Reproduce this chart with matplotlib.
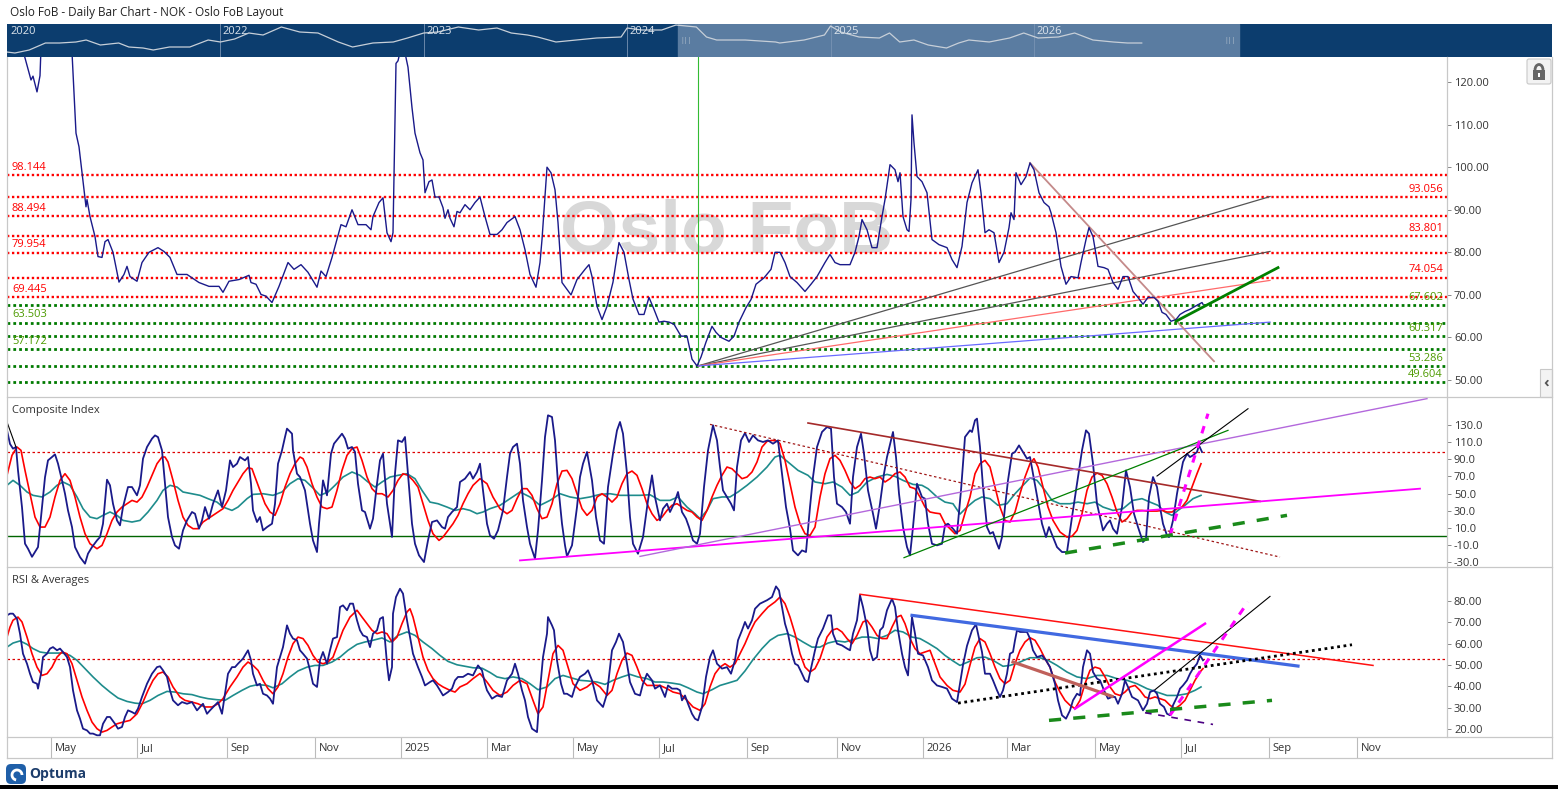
import numpy as np
import pandas as pd
import matplotlib
matplotlib.use('Agg')
import matplotlib.pyplot as plt
from matplotlib.patches import Rectangle, FancyBboxPatch, Circle, Arc

plt.rcParams['font.family'] = ['Open Sans', 'DejaVu Sans']

# ---------------- DATA ----------------
first_bar_date = '2024-04-01'          # first visible daily bar
n_visible_bars = 720

tick_months = ['2024-05', '2024-07', '2024-09', '2024-11', '2025-01', '2025-03', '2025-05', '2025-07',
               '2025-09', '2025-11', '2026-01', '2026-03', '2026-05', '2026-07', '2026-09', '2026-11']
tick_labels = ['May', 'Jul', 'Sep', 'Nov', '2025', 'Mar', 'May', 'Jul',
               'Sep', 'Nov', '2026', 'Mar', 'May', 'Jul', 'Sep', 'Nov']

# price (bar index, value)
price_pts = [(6.5,130),(12,120.5),(13,121.4),(15,117.7),(16.5,121.5),(17,128),(24.5,135),(32.5,127),(34.5,108),
(36,104.8),(37.5,98.7),(39.5,90.7),(40,92.4),(41.5,88.4),(44,83.7),(45.5,79),(47.5,78.8),(49,82.5),(50.5,83),
(53,80),(56,73),(58.5,74.8),(60,76.7),(61.5,74.3),(65,73.2),(67.5,77.6),(71,80),(75.5,81.1),(78.5,80.2),
(81.5,78.8),(85,74.8),(90,74.8),(96,72.9),(101,72),(106,72),(108,70.6),(111,73.2),(116,73.6),(121,74.6),
(122,72.9),(124.5,72.5),(127,70.1),(129.5,69.7),(132.5,68.2),(136,72),(140.5,77.6),(143.5,76),(147,77.1),
(150.5,75.3),(155,71.8),(157,75.6),(159.5,74.3),(162.5,78.8),(167,86.5),(169.5,86),(172.5,90),(175.5,86.5),
(179.5,86.5),(182,85.3),(183,88.4),(186,91.7),(188,92.8),(190,84.6),(192,82.5),(193,84.6),(194.5,124.4),
(195.5,125),(197,128),(198.5,128),(200.5,123.5),(202.5,114),(204,108),(206.5,103.4),(208,101.7),(209,94),
(211,96.6),(212.5,97),(214,93),(216,93),(218,90.5),(219,88),(220.5,90),(221.5,88),(223.5,86),(225,89.6),
(226.5,89.3),(229,91.2),(231.5,90),(234,91.7),(236.5,93),(239,88.4),(241.5,84.2),(245,84.2),(247.5,85.3),
(250,87),(254,88.4),(256.5,85.3),(259,80.6),(261.5,74.8),(264.5,71.8),(266.5,77.6),(267.5,83),(270,100),
(272,98.7),(274,94.7),(275.5,87),(277.5,72.9),(280,71.3),(282,70),(285,73.6),(289,76),(291,77.1),(292.5,74.3),
(295,67.3),(297.5,64.2),(300,67.3),(303,73),(306,82.3),(308.5,80),(311,73.6),(313,69),(316,65.4),(318.5,65.4),
(321,69.4),(323.5,66.6),(326,63.6),(328.5,63.8),(331,63.6),(333.5,63.1),(337,60.3),(340,60.3),(342.5,54.9),
(345,53.3),(347,55.4),(349.5,58.9),(352.5,62.6),(354.5,61.2),(357,60),(361,59.1),(363.5,60.3),(366,63.6),
(369.5,67),(372,68.9),(374.5,72.5),(378.5,74),(382,76),(384,80),(386.5,80),(389,77.6),(391.5,74.3),(395,72.9),
(399,70.8),(402,72.5),(405,74.3),(409,77.6),(411.5,79.5),(414,77.6),(416.5,77.1),(421.5,77.1),(424,80),
(426,83.7),(427.5,87.7),(430,85.3),(432.5,81.1),(435,81.1),(437.5,88.4),(439,92.4),(441.5,100.6),(444,99.4),
(445.5,96.6),(446.5,98.7),(448,88.4),(450,85.3),(451,84.9),(452,92.4),(452.5,112.3),(453.5,105.7),(455,97.8),
(457.5,96.6),(460,94),(462.5,83),(466,81.8),(470,81.1),(472.5,78.3),(475,76.4),(477.5,81.4),(480,91.7),
(482.5,96.3),(485.5,99.4),(487,94),(489,84.6),(491,85.3),(493.5,84.6),(496,77.6),(498.5,80),(501,85.8),
(502,89.3),(503.5,87.7),(504.5,98.7),(507,95.9),(509.5,97.8),(511.5,101),(513.5,99.4),(516,94),(518.5,91.7),
(521,90.7),(522,89.3),(524.5,84.6),(527,76.7),(529.5,72.5),(532,74.3),(535.5,74),(537,77.6),(539.5,83),
(541,85.8),(543,83.7),(545.5,76.7),(548.5,76.4),(550.5,76),(553,72.9),(555.5,71.3),(558,74.3),(560.5,74.3),
(563,70.8),(565.5,69.4),(568,67.8),(570.5,69.4),(573.5,69.4),(575.5,68.5),(577.5,65.9),(579.5,65.4),(582,63.8),
(584.5,64.2),(586.5,65.4),(589,66.1),(591.5,66.6),(594,67.3),(597.5,68.2),(598,67.8)]

red_levels = [98.144, 93.056, 88.494, 83.801, 79.954, 74.054, 69.445]
green_levels = [67.602, 63.503, 60.317, 57.172, 53.286, 49.604]
left_labelled = [98.144, 88.494, 79.954, 69.445, 63.503, 57.172]
price_pivot = (345.5, 53.3)
fan_ends = [(631.5, 93.1, '#555555'), (631.5, 80.2, '#555555'), (631.5, 73.4, '#ff6a6a'), (631.5, 63.6, '#6a6aff')]
price_downtrend = [(511.5, 101.0), (603.5, 54.4)]
price_uptrend = [(584.5, 63.8), (635.5, 76.4)]

comp_blue = [(0,124),(1.5,108),(3,102.5),(4.5,104.4),(5.5,77),(7.5,34),(9,-8.6),(10.5,-14.5),(12.5,-24),(14,-18.4),
(15.5,-12.6),(17.5,34),(19,69),(20.5,88.8),(22.5,92.7),(24,95.8),(25.5,85),(27.5,65.4),(29,49.8),(30.5,30.3),
(32.5,10.8),(34,-12.6),(36.5,-24.3),(39,-32),(40.5,-20.3),(42.5,-12.6),(45,-4.8),(46.5,-0.9),(48,14.7),(50,66.2),
(51.5,59.6),(53,38.1),(55,18.6),(56.5,12.8),(58,34.2),(60.5,57.6),(62.5,57.6),(65,47.9),(66.5,59.6),(68,90.8),
(70,104.4),(72.5,114.2),(74,118),(75.5,116),(77.5,100.5),(79,61.5),(80.5,22.5),(82.5,-0.8),(84,-10.6),(86,-14.5),
(88,6.9),(90,18.6),(92.5,28.4),(94,26.4),(96,8.9),(97.5,18.6),(99,34.2),(101,20.6),(103,38.1),(105.5,53.7),
(107.5,34.2),(109.5,53.7),(111.5,88.8),(113,81),(115,84.9),(116.5,92.7),(119,88.8),(120.5,92.7),(122,61.5),
(123,30.3),(125,16.7),(126.5,22.5),(128,6.9),(130,10.8),(132.5,14.7),(134,38.1),(135.5,84.9),(137.5,100.5),
(139,116.1),(140,125.9),(142.5,120),(143,100.5),(145,73.2),(146.5,69.3),(149,53.7),(151.5,14.7),(153,-4.8),
(155,-18.4),(156,14.7),(158,65.4),(160,47.9),(162,96.6),(163.5,108.3),(165.5,114.2),(167.5,120),(169,114.2),
(170.5,102.5),(172.5,104.4),(174,98.6),(175.5,61.5),(177.5,30.3),(179,28.4),(181.5,8.9),(183,20.6),(185,61.5),
(186.5,88.8),(188,96.6),(190,38.1),(192.5,-0.8),(194,73.2),(195.5,112.2),(197.5,110.3),(199,116.1),(200.5,73.2),
(202.5,14.7),(204,-8.7),(206,-22.3),(208.5,-30.1),(210.5,-4.8),(212.5,16.7),(215,18.6),(217.5,10.8),(219,8.9),
(220.5,22.5),(222.5,28.4),(225,34.2),(226.5,63.5),(229,67.4),(231.5,75.2),(233,67.4),(235,75.2),(236.5,84.9),
(238,53.7),(240,14.7),(241.5,1),(243.5,-2.8),(245.5,7),(248,30.3),(250,69.3),(251.5,96.6),(253,104.4),(255,108.3),
(256.5,84.9),(258,42),(260,10.8),(261.5,-8.7),(264,-26.2),(265.5,6.9),(267.5,65.4),(269,116.1),(270.5,141.5),
(272.5,139.5),(274,112.2),(275.5,61.5),(277.5,14.7),(279,-10.6),(280,-23.5),(282.5,-10.6),(285,34.2),(286.5,69.3),
(288,84.9),(290,98.6),(292.5,65.4),(294.5,22.5),(296.5,-4.8),(298.5,-8.7),(300.5,57.6),(303,96.6),(305,123.9),
(306.5,133.7),(308,120),(310,73.2),(311.5,22.5),(313,-8.7),(315.5,-20.4),(318,-0.9),(320.5,42),(322.5,71.3),
(324,45.9),(326.5,18.6),(328,32.3),(330,38.1),(331.5,28.4),(333.5,38.1),(335.5,51.8),(337.5,28.4),(339.5,20.6),
(341,10.8),(343,-4.8),(345,-8.7),(346.5,3),(348.5,57.6),(350.5,100.5),(353,129.8),(355,112.2),(356.5,81),
(358,53.7),(360,45.9),(362,38.1),(363.5,30.3),(365,81),(367,112.2),(369,120.8),(371,110.3),(373,118),(375.5,112.2),
(378,110.3),(380.5,112.2),(383,108.3),(385.5,112.2),(387.5,73.2),(389.5,34.2),(391.5,8.9),(393,-16.5),(395.5,-22.3),
(397.5,-16.5),(399.5,-18.4),(401.5,34.2),(403,69.3),(405,104.4),(407.5,122),(410,127.8),(412,125.9),(413.5,69.3),
(415,38.1),(417.5,34.2),(419.5,28.4),(421.5,14.7),(423,69.3),(425,104.4),(427,120),(428.5,96.6),(430.5,53.7),
(433,26.4),(434.5,8.9),(436.5,38.1),(438.5,73.2),(440,92.7),(443,122),(444.5,92.7),(446,49.8),(448,10.8),
(450,-12.6),(451.5,-22.3),(453,10.8),(455,61.5),(457.5,45.9),(459,44),(460.5,14.7),(462.5,-8.7),(465,-10.6),
(467.5,-8.7),(469,12.8),(470.5,14.7),(473,8.9),(475,3),(477,53.7),(479,116.1),(481.5,123.9),(482.5,122),
(484,135.6),(485,137.6),(486.5,104.4),(488,57.6),(490,10.8),(491.5,3),(493,5),(495,-8.7),(496,-14.5),(497.5,-0.9),
(499,34.2),(500.5,65.4),(502.5,96.6),(504,98.6),(506,106.3),(508,98.6),(510,90.8),(511.5,92.7),(513,73.2),
(515,47.9),(517.5,14.7),(519.5,-0.9),(521,10.8),(523,-0.9),(525,-12.6),(527.5,-18.4),(530,-18.4),(532.5,22.5),
(535,61.5),(537.5,100.5),(539.5,123.9),(541,120),(543,84.9),(545,38.1),(546.5,22.5),(548,6.9),(550,14.7),
(551.5,18.6),(553,8.9),(555,3),(557.5,34.2),(559.5,77.1),(561.5,57.6),(563.5,26.4),(565.5,10.8),(568,-6.7),
(569.5,-2.8),(571,45.9),(573,69.3),(575,57.6),(576.5,34.2),(578,14.7),(580,1),(581,-0.9),(583,18.6),(585,49.8),
(586.5,69.3),(588,86.9),(590,96.6),(591.5,92.7),(593,94.7),(595,98.6),(596,106.3),(597.5,98.6)]

comp_red = [(0,71.3),(2.5,94.7),(5,104.4),(7,100.5),(9,77.1),(11.5,49.8),(14,22.5),(16.5,10.8),(19,10.8),(21.5,22.5),
(24,45.9),(26.5,65.4),(29,73.2),(31.5,65.4),(34,45.9),(36.5,22.5),(39,3),(41.5,-8.7),(45,-14.5),(47.5,-10.6),
(50,3),(52.5,18.6),(55,28.4),(57.5,34.2),(60,38.1),(62.5,42),(65,40),(67.5,45.9),(70,57.6),(72.5,71.3),(75,84.9),
(77.5,92.7),(79,92.7),(80.5,86.9),(83,65.4),(85.5,42),(88,22.5),(90.5,12.8),(93,8.9),(95.5,8.9),(98,16.7),
(100.5,20.6),(103,24.5),(105.5,28.4),(108,32.3),(110.5,42),(113,53.7),(115.5,63.5),(118,73.2),(120.5,80.2),
(122.5,79),(124,69.3),(126.5,53.7),(129,38.1),(131.5,28.4),(134,24.5),(136.5,38.1),(139,57.6),(141.5,73.2),
(144,84.9),(146.5,92.7),(148,90.8),(150,81),(152.5,61.5),(155,45.9),(157.5,34.2),(160,32.3),(162.5,34.2),
(165,53.7),(167.5,77.1),(170,94.7),(172.5,102.5),(175,104.4),(177.5,88.8),(180,69.3),(182.5,55.7),(185,49.8),
(187.5,49.8),(190.5,45.9),(193,53.7),(195.5,65.4),(198,73.2),(200.5,71.3),(203,65.4),(205.5,57.6),(208,38.1),
(210.5,18.6),(213,3),(216,-4.8),(218,-0.9),(220.5,6.9),(223,14.7),(225.5,24.5),(228,38.1),(230.5,49.8),(233,59.6),
(236.5,67.4),(240,61.5),(243,45.9),(246.5,32.3),(250,26.4),(252.5,30.3),(255,44),(257.5,55.7),(260,55.7),
(262.5,47.9),(265,32.3),(267.5,20.6),(270,22.5),(272.5,38.1),(275,61.5),(277.5,76.3),(280,77.1),(282.5,67.4),
(285,49.8),(287.5,32.3),(290,24.5),(292.5,30.3),(295,45.9),(297.5,49.8),(300,45.9),(302.5,40),(305,45.9),
(307.5,61.5),(310,73.2),(312.5,76.3),(315,71.3),(317.5,55.7),(320,38.1),(322.5,26.4),(325,18.6),(327.5,22.5),
(330,30.3),(332.5,36.2),(335,38.1),(337.5,34.2),(340,30.3),(342.5,28.4),(345,22.5),(347.5,18.6),(350,30.3),
(352.5,45.9),(355,59.6),(357.5,71.3),(360,81),(362.5,79),(365,73.2),(367.5,67.4),(370,69.3),(372.5,75.2),
(375,86.9),(377.5,104.4),(380,111),(382.5,112.2),(385,111.4),(386.5,108.3),(389,88.8),(391.5,61.5),(394,34.2),
(396.5,14.7),(399,3),(401.5,1),(404,10.8),(406.5,45.9),(409,73.2),(411.5,90.8),(414,94.7),(416.5,88.8),(419,77.1),
(421.5,63.5),(424,55.7),(426.5,59.6),(429,67.4),(431.5,69.3),(434,67.4),(436.5,69.3),(439,63.5),(441.5,67.4),
(444,73.2),(446.5,75.2),(449,69.3),(451.5,57.6),(454,55.7),(456.5,45.9),(459,34.2),(461.5,28.4),(464,27.2),
(466.5,26.4),(469,14.7),(471.5,8.9),(474,3),(476.5,6.9),(479,27),(481.5,46),(484,73.2),(486.5,84.9),(489,88.8),
(491.5,81),(494,57.6),(496.5,34.2),(499,18.6),(501.5,16.7),(504,28.4),(506.5,49.8),(509,69.3),(511.5,84.9),
(513.5,90.8),(515.5,81),(518,57.6),(520.5,34.2),(523,18.6),(526.5,5),(530,-0.9),(532.5,0),(535,6.9),(537.5,26.4),
(540,53.7),(542.5,69.3),(545,74),(547.5,71.3),(550,61.5),(552.5,45.9),(555,28.4),(557.5,16.7),(560,20.6),
(562.5,28.4),(565,30.3),(567.5,30.3),(570,29.5),(572.5,29.5),(575,29.5),(577.5,30.3),(580,28.4),(582.5,28.4),
(585,32.3),(587.5,34.2),(590,42),(592.5,57.6),(595,73.2),(597,84.9)]

comp_teal = [(0,59.6),(3,65.4),(6.5,59.6),(10,51.8),(13,47.9),(17.5,46),(21.5,51.8),(25,59.6),(28,63.5),(31.5,59.6),
(35,46),(38,32.3),(41.5,22.5),(45,20.6),(48,24.5),(51.5,28.4),(55,24.5),(58,18.6),(62.5,16.7),(66.5,18.6),
(70.5,28.4),(75,42),(78,53.7),(81.5,59.6),(85,57.6),(88,51.8),(92.5,49.8),(96.5,47.9),(100.5,44),(105,40),
(108,34.2),(112.5,30.3),(115.5,34.2),(120,44),(123,49),(128,49.8),(133,47.9),(137.5,51.8),(141.5,61.5),
(145.5,67.4),(149,65.4),(152.5,57.6),(156.5,47.9),(160.5,51.8),(164,59.6),(168,69.3),(172.5,75.2),(176.5,71.3),
(180.5,63.5),(184,57.6),(187.5,63.5),(191.5,69.3),(195.5,71.3),(200,73.2),(204,67.4),(207.5,53.7),(211.5,40),
(215.5,38.1),(220,34.2),(224,30.3),(228,32.3),(231.5,30.3),(235,26.4),(238,28.4),(241.5,32.3),(246.5,36.2),
(251.5,44),(256.5,51.8),(261.5,46),(266.5,36.2),(271.5,42),(276.5,49.8),(281.5,46),(286.5,44),(291.5,46),
(296.5,49),(301.5,49.8),(306.5,47.9),(311.5,47.9),(316.5,47.9),(321.5,48.6),(326.5,42),(331.5,42),(335.5,46),
(340,34.2),(344,26.4),(346.5,20.6),(350,30.3),(353,44),(357.5,46),(361.5,46),(365.5,51.8),(370,59.6),(375,69.3),
(380,81),(384,92.7),(386.5,94.7),(390.5,86.9),(395.5,77.1),(400.5,71.3),(404,63.5),(409,61.5),(413,63.5),
(417.5,57.6),(421.5,47.9),(425.5,51.8),(430,63.5),(435,69.3),(440,72.4),(444,70.1),(448,65.4),(453,60.7),
(457.5,59.6),(460.5,55.7),(465,46),(469,40),(473,38.1),(476.5,26),(480,34.2),(484,42),(487.5,46),(491.5,44),
(495.5,36.2),(500,38.1),(504,49.8),(508,59.6),(511.5,68.2),(515,65.4),(519,53.7),(522.5,42),(526.5,38.1),
(531.5,38.1),(535.5,40),(540,38.1),(544,40),(548,34.2),(553,30.3),(558,32.3),(563,42),(567.5,44),(571.5,40),
(575.5,36.2),(579,28.4),(582.5,24.5),(585.5,30.3),(589,36.2),(593,44),(597,47.9)]

comp_red_level = 98.0
comp_lines = {
    'short_black': [(0, 133.7), (4.5, 104.4)],
    'red_dotted': [(351.5, 130.9), (636.5, -24.3)],
    'brown': [(400.5, 132.5), (626.5, 40.9)],
    'magenta': [(256.5, -28.2), (706.5, 55.7)],
    'violet': [(316.5, -23.5), (710, 161.0)],
    'green': [(448.5, -25.0), (610.5, 123.9)],
    'black': [(575, 70.5), (620.5, 149.2)],
    'magenta_dash': [(581.5, 1.0), (600.5, 143.4)],
    'green_dash': [(529, -19.6), (640, 24.5)],
}

rsi_blue = [(0,73.3),(1.5,74.1),(3,74.1),(5,71.7),(6.5,64.7),(8,55.3),(10,50.6),(11.5,45.9),(13,42),(15,41.2),
(15.5,38.9),(17,45.9),(18,53.7),(20,55.3),(21.5,57.7),(23,58.4),(25,56.9),(26.5,57.7),(28,56.1),(30,53.7),
(31.5,49),(33,38.1),(35,28.7),(36.5,24.8),(38,20.1),(40,19.3),(41.5,17.8),(43,17.8),(45,17),(46.5,17),(48,22.4),
(50,25.6),(51.5,25.6),(54,22.4),(55.5,20.1),(57.5,20.9),(59,25.6),(60.5,28.7),(62.5,27.9),(64,27.1),(65.5,29.5),
(67.5,35),(70,41.2),(72.5,45.9),(75,49),(76.5,49.4),(78,47.5),(80,44.4),(81.5,38.1),(83,33.4),(85.5,31.1),
(87.5,32.6),(90,31.8),(92.5,32.6),(95,28.7),(96.5,30.3),(98,31.8),(100,27.1),(101.5,28.7),(104,31.1),(105.5,32.6),
(107.5,27.1),(109,36.5),(110.5,45.9),(112.5,49),(114,49),(115.5,50.6),(118,53),(120.5,56.9),(122,52.2),(123,45.9),
(125,40.4),(126.5,41.2),(128,36.5),(130,35.7),(131.5,34.2),(133,31.8),(135,49),(136.5,53.7),(138,58.4),(140,68.6),
(141.5,64.7),(143,62.4),(145,61.6),(146.5,56.9),(148,55.3),(150,53),(151.5,47.5),(153,41.2),(155,39.7),(156.5,52.2),
(158,56.1),(160,50.6),(161.5,56.9),(163,62.4),(165,63.1),(166.5,77.2),(168,78),(170,75.7),(171.5,78.8),(173,78.8),
(175,71),(176.5,66.3),(178,63.9),(180,63.1),(181.5,58.4),(183,64.7),(185,66.3),(186.5,71.7),(188,72.5),(189,61.6),
(190,50.6),(191,42.8),(192.5,49),(193,74.1),(194.5,81.9),(196.5,85.8),(198,83.5),(200,71),(201.5,63.1),(203,55.3),
(205.5,49),(207.5,44.4),(209,40.4),(211.5,42),(213,42.8),(215,40.4),(216.5,38.1),(218,35.7),(220.5,37.3),
(222.5,38.9),(224,42.8),(225.5,44.4),(228,44.4),(230.5,45.9),(233,45.1),(235.5,49.8),(237.5,47.5),(239,41.2),
(240,38.1),(242.5,34.2),(245,35.7),(247.5,35),(250,42.8),(252.5,45.9),(254,50.6),(255.5,45.9),(257.5,38.1),
(259,33.4),(260.5,25.6),(262.5,20.1),(265,18.5),(266.5,38.1),(268,53.7),(270,64.7),(270.5,72.5),(272.5,68.6),
(273.5,66.3),(275,52.2),(277,41.2),(278.5,36.5),(280,36.5),(282.5,35),(284,39.7),(286.5,44.4),(289,45.9),
(290.5,47.5),(292.5,42.8),(295,33.4),(298,30.3),(300,36.5),(302.5,56.9),(304.5,60.8),(306,64.7),(308,60.8),
(310,50.6),(311.5,42),(314,36.5),(316.5,35.7),(318,41.2),(320,45.9),(322.5,42.8),(324,38.9),(326.5,40.4),(329,35),
(330.5,40.4),(332.5,38.9),(335,38.9),(336.5,38.1),(337.5,33.4),(339,35.7),(340.5,31.8),(342.5,27.1),(344,24.8),
(345.5,24),(347.5,30.3),(349.5,44.4),(351.5,53.7),(353,56.9),(355,50.6),(357.5,48.3),(360,49),(362,45.9),(364,52.2),
(365.5,61.6),(367.5,66.3),(369,70.2),(370.5,67.1),(372.5,71),(374,76.4),(376.5,78.8),(380,80.4),(382.5,81.9),
(384.5,86.9),(386,85),(387.5,77.2),(389,69.4),(390.5,64.7),(392.5,55.3),(394,50.6),(395.5,49.8),(397.5,45.9),
(399,42.8),(400.5,42),(402.5,50.6),(404,56.9),(405.5,62.4),(408,67.1),(410.5,73.3),(412,73.3),(413,64.7),(415,60),
(417.5,59.2),(420,57.7),(421.5,56.9),(423,64.7),(425,71),(426.5,82.7),(428,77.2),(430,67.8),(431.5,56.9),
(433,52.2),(435,53.7),(436.5,66.3),(438,67.8),(440,75.7),(442.5,81.1),(444,77.2),(445.5,66.3),(447.5,55.3),
(449,49),(450.5,45.1),(452.5,72.5),(454,64.7),(455.5,55.3),(458,54.5),(460.5,49),(462.5,42.8),(465,40.4),
(467.5,39.7),(470,38.9),(472.5,34.2),(475,32.6),(476.5,41.2),(478,50),(480,59),(482.5,66.3),(484.5,69.1),
(485.5,64.7),(487.5,56.1),(489,45.9),(491.5,45.9),(493,42.8),(495,38.1),(496.5,35),(498,38.1),(500,45.9),
(501.5,55.3),(503,56.1),(504,61.6),(505,66.3),(506.5,65.5),(508,65.5),(510,65.5),(511.5,62.4),(513,56.9),
(515,53.7),(517.5,54.5),(519.5,52.2),(521.5,49),(524,41.2),(525.5,33.4),(527.5,26.4),(529.5,24.8),(531.5,28.7),
(533,33.4),(535,36.5),(536.5,35.7),(538,49),(540,56.9),(541.5,55.3),(543,46.7),(545,43.6),(546.5,42.8),(548.5,38.1),
(550.5,34.2),(552.5,35),(554,35),(555.5,31.8),(557.5,36.5),(559,42.8),(560.5,39.7),(562.5,35),(564,34.2),
(565.5,33.4),(568,28.7),(570,31.8),(571.5,37.3),(573.5,38.1),(575,36.5),(576.5,31.8),(578.5,30.3),(580,27.1),
(581.5,26.4),(583,31.1),(585,35),(586.5,38.9),(588,40.4),(590,42.8),(591.5,45.9),(593,48.3),(595,50.6),(596.5,54.5),
(598,52.2)]

rsi_red = [(0,63.1),(1.5,67.8),(3,71),(5.5,72.5),(7.5,70.2),(10,63.1),(12.5,55.3),(15,49),(17.5,45.1),(20,45.9),
(22.5,49),(25,53.7),(27.5,56.1),(30,55.3),(32.5,50.6),(35,42.8),(37.5,35),(40,28.7),(42.5,23.2),(45,20.1),
(47.5,18.5),(50,19.3),(52.5,20.9),(55,22.4),(58,23.2),(61.5,24),(65,27.1),(68,32.6),(70.5,38.1),(73,42.8),
(75.5,45.9),(78,46.7),(80.5,44.4),(83,39.7),(86.5,35),(89,33.4),(92.5,32.6),(95.5,31.8),(99,30.3),(102.5,30.3),
(105.5,31.8),(108,34.2),(111.5,39.7),(115,44.4),(118,49),(120.5,51.4),(123,49.8),(125.5,47.5),(128,42.8),
(130.5,38.9),(133,36.5),(135.5,39.7),(138,45.9),(140.5,53.7),(143,60),(145.5,63.1),(148,62.4),(150.5,59.2),
(153,54.5),(155.5,51.4),(158,50.6),(160.5,51.4),(163,53.7),(165.5,60),(168,66.3),(171.5,72.5),(175,75.7),
(177.5,72.5),(180,69.4),(182.5,66.3),(185,64.7),(187.5,65.5),(190,64.7),(192.5,60.8),(195,63.1),(197.5,69.4),
(200,74.9),(201.5,76.4),(203,72.5),(205.5,63.1),(208,53.7),(210.5,47.5),(213,43.6),(215.5,41.2),(218,39.7),
(221.5,38.1),(224,37.3),(226.5,39.7),(230,41.2),(233,43.6),(236.5,46),(240,42),(243,38.1),(246.5,35.7),(250,37.3),
(253,40.4),(256.5,42.8),(260,41.2),(263,33.4),(265.5,27.1),(268,30.3),(270.5,42.8),(273,55.3),(275.5,59.2),
(278,56.9),(280.5,49),(283,41.2),(286.5,38.1),(290,39.7),(293,42),(296.5,39.7),(300,35.7),(302.5,38.1),(305,45.9),
(307.5,52.2),(310,55.6),(312.5,54.5),(315,49),(317.5,42.8),(320,40.4),(323,40.4),(326.5,40.4),(330,38.9),
(333,37.3),(336.5,36.5),(340,33.4),(343,30.3),(346.5,28.7),(349,31.8),(351.5,39.7),(354,45.9),(356.5,49),
(359,50.6),(361.5,49),(364,50.6),(366.5,55.3),(369,60),(371.5,65.5),(374,70.2),(377.5,74.1),(380.5,77.2),
(384,79.6),(386.5,81.9),(389,78.8),(391.5,72.5),(394,64.7),(396.5,55.3),(399,49),(401.5,46.7),(404,48.3),
(406.5,53),(410,63.1),(412.5,66.3),(415,67.1),(417.5,65.5),(420,62.4),(422.5,60),(425,63.9),(428,70.2),(430,71),
(432.5,67.8),(435,63.9),(437.5,62.4),(440,62.4),(442.5,67.8),(445,72.5),(447,73.3),(449,69.4),(451.5,62.4),
(454,57.7),(456.5,55.3),(459,56.1),(461.5,56.9),(464,50.6),(466.5,44.4),(470,40.4),(473,38.1),(476.5,37.3),
(479,41),(481.5,50),(484,58.4),(486.5,62.4),(489,60.8),(491.5,55.3),(494,49),(496.5,43.6),(499,41.2),(501.5,42.8),
(504,50.6),(506.5,56.9),(509,60.8),(511.5,62.8),(514,61.6),(516.5,57.7),(519,53),(521.5,49),(524,42),(526.5,37.3),
(529,33.4),(531.5,31.1),(534,29.5),(536.5,33.4),(539,41.2),(541.5,47.5),(544,49),(546.5,48.3),(549,44.4),
(551.5,39.7),(554,36.5),(556.5,35.7),(559,37.3),(561.5,39.7),(564,40.4),(566.5,38.1),(569,35),(571.5,34.2),
(574,35),(576.5,34.2),(579,33.4),(581.5,31.1),(584,29.5),(586.5,31.1),(589,33.4),(591.5,38.1),(594,42.8),
(596.5,46.7),(598,48.3)]

rsi_teal = [(0,58.4),(3,60.3),(6.5,61.3),(10,59.7),(13,57.7),(16.5,56.1),(20,55.6),(24,55.6),(28,55.6),(31.5,54.5),
(35,52.2),(39,48.3),(43,44.4),(47.5,40.4),(51.5,37.3),(55.5,34.5),(60,32.9),(64,32.1),(67.5,31.8),(71.5,33.4),
(75.5,35.7),(80,37.6),(84,37.3),(88,36.5),(92.5,36.1),(96.5,35),(100.5,34.2),(105,33.7),(109,33.4),(113,35.7),
(117.5,38.1),(121.5,40),(125.5,40.8),(130,40.4),(133,39.3),(137.5,41.2),(141.5,44.4),(145.5,47.2),(150,49),
(154,49.8),(158,49.8),(162.5,51.4),(166.5,53.7),(170.5,56.9),(175,59.7),(179,60.8),(183,61.6),(187.5,62.7),
(191.5,60.8),(195.5,63.9),(200,65.5),(204,63.9),(208,60.8),(212.5,57.7),(216.5,54.5),(220.5,51.7),(225,50.1),
(229,49.4),(233,48.7),(237.5,48.5),(241.5,46.5),(245,44.4),(249,43.6),(253,44.4),(257.5,43.6),(261.5,41.2),
(265.5,38.4),(270,39.7),(274,43.6),(278,45.1),(282.5,43.9),(286.5,42.8),(290.5,42.5),(295,42),(299,40.9),
(303,42.8),(307.5,44.4),(311.5,45.6),(315.5,44.4),(320,43.6),(324,42),(328,42),(332.5,41.5),(336.5,40.9),
(340.5,39.3),(345,37.3),(348,36.5),(352.5,38.4),(356.5,40.4),(360.5,41.5),(365,42.8),(369,47.2),(373,52.5),
(377.5,57.7),(381.5,61.6),(385.5,63.9),(390,64.7),(394,63.1),(398,60.8),(402.5,58.4),(406.5,58.4),(410.5,60.3),
(415,61.3),(419,60.8),(423,61.9),(427.5,63.1),(431.5,63.1),(435.5,62.4),(440,63.9),(444,66.3),(448,65.5),
(452.5,63.1),(456.5,62.4),(460.5,60.3),(465,57.7),(469,54.5),(473,51.9),(476.5,49.8),(480.5,51.4),(485,53.4),
(489,53.7),(493,52.2),(498,49.4),(501.5,49.8),(506.5,51.4),(511.5,53.4),(516.5,53.4),(520.5,52.2),(525,49.8),
(530,46.7),(535,44.4),(540,43.6),(545,45.1),(550,45.1),(555,43.6),(560,42.8),(565,41.2),(570,38.9),(575,37.3),
(580,35.7),(585,35.7),(590,36.5),(594,38.1),(597,39.7)]

rsi_red_level = 52.6
rsi_lines = {
    'red': [(426.5, 83.2), (683, 49.8)],
    'blue': [(452.5, 73.3), (645.5, 49.5)],
    'black_dotted': [(475.5, 32.1), (672.5, 59.5)],
    'rosy': [(503, 51.4), (552.5, 35.3)],
    'magenta': [(534, 29.5), (599, 69.4)],
    'black': [(574, 38.4), (631.5, 82.2)],
    'magenta_dash': [(581.5, 26.4), (620.5, 79.6)],
    'green_dash': [(521, 24.0), (632.5, 33.4)],
    'indigo_dash': [(569, 27.6), (603, 22.1)],
}

# navigator thumbnail (year, level)
nav_pts = [(2020.95,53.5),(2020.99,50.8),(2021.06,58.9),(2021.14,77.8),(2021.21,77.8),(2021.29,80.5),(2021.34,85.9),
(2021.41,72.4),(2021.50,77.8),(2021.55,67),(2021.62,64.3),(2021.67,58.9),(2021.75,67),(2021.85,67),(2021.94,85.9),
(2022.00,80.5),(2022.07,88.6),(2022.14,104.8),(2022.21,99.4),(2022.30,121),(2022.39,107.5),(2022.48,104.8),
(2022.58,80.5),(2022.65,67),(2022.75,77.8),(2022.85,80.5),(2022.92,91.3),(2023.00,104.8),(2023.07,107.5),
(2023.17,121),(2023.27,112.9),(2023.36,118.3),(2023.43,104.8),(2023.51,99.4),(2023.56,94),(2023.65,80.5),
(2023.75,85.9),(2023.85,91.3),(2023.97,94),(2024.00,118.3),(2024.07,112.9),(2024.17,112.9),(2024.24,126.4),
(2024.34,121),(2024.39,94),(2024.44,85.9),(2024.58,85.9),(2024.73,80.5),(2024.75,77.8),(2024.87,85.9),
(2024.97,99.4),(2025.00,123.7),(2025.05,107.5),(2025.14,94),(2025.24,91.3),(2025.29,104.8),(2025.34,80.5),
(2025.41,85.9),(2025.48,72.4),(2025.57,64.3),(2025.63,77.8),(2025.68,85.9),(2025.78,80.5),(2025.88,91.3),
(2025.95,104.8),(2026.02,91.3),(2026.12,94),(2026.20,104.8),(2026.29,85.9),(2026.39,80.5),(2026.46,77.8),
(2026.53,77.8)]
nav_years = [2022, 2023, 2024, 2025, 2026]

# ---------------- FIGURE ----------------
W, H = 1558, 789
fig = plt.figure(figsize=(W / 100, H / 100), dpi=100, facecolor='white')


def box(x0, y0, x1, y1):
    return [x0 / W, 1 - y1 / H, (x1 - x0) / W, (y1 - y0) / H]


bars = pd.bdate_range(first_bar_date, periods=900)
tick_idx = [int(np.searchsorted(bars, pd.Timestamp(m + '-01'))) for m in tick_months]
XL = (0, n_visible_bars)

NAVY = '#1a1a8a'
RED = '#ff0000'
TEAL = '#1e8c8c'
GRID = '#c8c8c8'


def unzip(pts):
    a, b = zip(*pts)
    return np.array(a), np.array(b)


def style_panel(ax, ylim, yticks, fmt):
    ax.set_xlim(*XL)
    ax.set_ylim(*ylim)
    ax.set_xticks([])
    ax.yaxis.tick_right()
    ax.set_yticks(yticks)
    ax.set_yticklabels([fmt % v for v in yticks])
    ax.tick_params(axis='y', direction='out', length=3, width=0.7, color='#888888',
                   labelsize=8, labelcolor='#333333', pad=2)
    for s in ax.spines.values():
        s.set_visible(False)


# ---- price panel ----
axp = fig.add_axes(box(7, 57, 1447, 397))
style_panel(axp, (46.0, 125.9), [50, 60, 70, 80, 90, 100, 110, 120], '%.2f')
axp.text(360, 80.05, 'Oslo FoB', fontsize=54, fontweight='bold', color='#d8d8d8',
         family=['Liberation Sans', 'DejaVu Sans'], ha='center', va='baseline', zorder=0)
for lv in red_levels:
    axp.axhline(lv, color=RED, lw=1.7, ls=(0, (1, 1.1)), zorder=1)
for lv in green_levels:
    axp.axhline(lv, color='#007a00', lw=2.0, ls=(0, (1, 1.1)), zorder=1)
for lv in red_levels + green_levels:
    col = RED if lv in red_levels else '#4d9a00'
    if lv in left_labelled:
        axp.text(2.5, lv + 0.5, f'{lv:.3f}', color=col, fontsize=8, ha='left', va='bottom')
    else:
        axp.text(718, lv + 0.5, f'{lv:.3f}', color=col, fontsize=8, ha='right', va='bottom')
axp.plot([price_pivot[0], price_pivot[0]], [price_pivot[1], 130], color='#33bb33', lw=0.8, zorder=2)
for bx, by, c in fan_ends:
    axp.plot([price_pivot[0], bx], [price_pivot[1], by], color=c, lw=0.9, zorder=3)
axp.plot(*unzip(price_downtrend), color='#c48a8a', lw=1.3, zorder=3)
xb, yb = unzip(price_pts)
axp.plot(xb, yb, color=NAVY, lw=1.0, zorder=4)
axp.plot(*unzip(price_uptrend), color='#008000', lw=2.0, zorder=5)

# ---- composite panel ----
axc = fig.add_axes(box(7, 397, 1447, 567))
style_panel(axc, (-35.9, 162.9), [-30, -10, 10, 30, 50, 70, 90, 110, 130], '%.1f')
axc.axhline(0, color='#006400', lw=1.0, zorder=1)
axc.axhline(comp_red_level, color='#dd0000', lw=0.9, ls=(0, (2, 2)), zorder=1)
axc.plot(*unzip(comp_teal), color=TEAL, lw=1.2, zorder=2)
axc.plot(*unzip(comp_red), color=RED, lw=1.2, zorder=3)
axc.plot(*unzip(comp_blue), color=NAVY, lw=1.3, zorder=3)
cstyles = {
    'short_black': dict(color='black', lw=0.8),
    'red_dotted': dict(color='#a01818', lw=0.9, ls=(0, (2, 2))),
    'brown': dict(color='#a52a2a', lw=1.2),
    'magenta': dict(color='#ff00ff', lw=1.3),
    'violet': dict(color='#b368dc', lw=1.0),
    'green': dict(color='#008000', lw=0.9),
    'black': dict(color='black', lw=0.8),
    'magenta_dash': dict(color='#ff00ff', lw=2.2, ls=(0, (2.5, 2.5))),
    'green_dash': dict(color='#1a8a1a', lw=2.5, ls=(0, (3.5, 3.5))),
}
for k, pts in comp_lines.items():
    axc.plot(*unzip(pts), zorder=4, **cstyles[k])

# ---- RSI panel ----
axr = fig.add_axes(box(7, 567, 1447, 737))
style_panel(axr, (16.2, 96.0), [20, 30, 40, 50, 60, 70, 80], '%.2f')
axr.axhline(rsi_red_level, color='#dd0000', lw=0.9, ls=(0, (2, 2)), zorder=1)
axr.plot(*unzip(rsi_teal), color=TEAL, lw=1.2, zorder=2)
axr.plot(*unzip(rsi_red), color=RED, lw=1.2, zorder=3)
axr.plot(*unzip(rsi_blue), color=NAVY, lw=1.3, zorder=3)
rstyles = {
    'red': dict(color='#ff1010', lw=1.1),
    'blue': dict(color='#4169e1', lw=2.3),
    'black_dotted': dict(color='black', lw=2.0, ls=(0, (1, 1.3))),
    'rosy': dict(color='#c0605a', lw=2.3),
    'magenta': dict(color='#ff00ff', lw=1.8),
    'black': dict(color='black', lw=0.8),
    'magenta_dash': dict(color='#ff00ff', lw=2.2, ls=(0, (2.5, 2.5))),
    'green_dash': dict(color='#1a8a1a', lw=2.5, ls=(0, (3.5, 3.5))),
    'indigo_dash': dict(color='#4b0082', lw=1.2, ls=(0, (4, 4))),
}
for k, pts in rsi_lines.items():
    axr.plot(*unzip(pts), zorder=4, **rstyles[k])

# ---- time axis band ----
axx = fig.add_axes(box(7, 737, 1447, 758))
axx.set_xlim(*XL)
axx.set_ylim(0, 1)
axx.axis('off')
for i, lab in zip(tick_idx, tick_labels):
    axx.axvline(i, color='#bbbbbb', lw=0.8)
    axx.annotate(lab, xy=(i, 0.45), xytext=(2.5, 0), textcoords='offset points',
                 ha='left', va='center', fontsize=8, color='#333333')

# ---- navigator ----
def yearfrac(ts):
    return ts.year + (ts.dayofyear - 1) / (366 if ts.is_leap_year else 365)


axn = fig.add_axes(box(7, 24, 1552, 57))
axn.set_xlim(2020.951, 2028.547)
axn.set_ylim(40, 129.1)
axn.set_facecolor('#0c3d6e')
axn.set_xticks([]); axn.set_yticks([])
for s in axn.spines.values():
    s.set_visible(False)
w0, w1 = yearfrac(bars[0]), yearfrac(bars[n_visible_bars])
axn.axvspan(w0, w1, color='#5a7ca1', zorder=0)
for yr in nav_years:
    axn.axvline(yr, color='#7893b3', lw=0.6, zorder=1)
    axn.text(yr + 0.012, 124, str(yr), color='#dce4ec', fontsize=8, va='top', ha='left', zorder=3)
axn.text(2020.951 + 0.015, 124, '2020', color='#dce4ec', fontsize=8, va='top', ha='left', zorder=3)
axn.plot(*unzip(nav_pts), color='#c7cfd8', lw=0.9, zorder=2)
for wx, ha in ((w0 + 0.015, 'left'), (w1 - 0.015, 'right')):
    axn.text(wx, 85, '|||', color='#b5c2d0', fontsize=5, ha=ha, va='center', zorder=3)

# ---- decoration overlay (frames, labels, logo) ----
axd = fig.add_axes([0, 0, 1, 1], zorder=10)
axd.set_xlim(0, W)
axd.set_ylim(H, 0)
axd.axis('off')
axd.patch.set_alpha(0)
for yy in (397, 567, 737, 758):
    axd.plot([7, 1552], [yy, yy], color=GRID, lw=0.9)
axd.plot([7, 7], [57, 758], color=GRID, lw=0.9)
axd.plot([1552, 1552], [57, 758], color=GRID, lw=0.9)
axd.plot([1447, 1447], [57, 737], color=GRID, lw=0.9)
axd.text(10, 12, 'Oslo FoB - Daily Bar Chart - NOK - Oslo FoB Layout', fontsize=8.5,
         color='#222222', va='center', ha='left')
axd.text(12, 410, 'Composite Index', fontsize=8, color='#333333', va='center', ha='left')
axd.text(12, 581, 'RSI & Averages', fontsize=8, color='#333333', va='center', ha='left')
# lock icon
axd.add_patch(FancyBboxPatch((1527, 59), 24, 25, boxstyle='round,pad=0,rounding_size=2',
                             fc='#f3f3f3', ec='#c8c8c8', lw=0.8))
axd.add_patch(Rectangle((1533, 70), 12, 10, fc='#666666', ec='none'))
axd.add_patch(Arc((1539, 70), 8, 11, theta1=180, theta2=360, color='#666666', lw=2))
axd.add_patch(Rectangle((1538.2, 73), 1.6, 4, fc='white', ec='none'))
# side tab
axd.add_patch(Rectangle((1540, 369), 12, 28, fc='#f3f3f3', ec='#c8c8c8', lw=0.8))
axd.text(1546, 383, '‹', fontsize=11, color='#555555', ha='center', va='center', fontweight='bold')
# Optuma logo
axd.add_patch(FancyBboxPatch((6, 764), 20, 20, boxstyle='round,pad=0,rounding_size=5',
                             fc='#1f5fa8', ec='none'))
axd.add_patch(Arc((17, 775), 10, 10, theta1=100, theta2=360, color='white', lw=2.0))
axd.text(29, 774, 'Optuma', fontsize=10, fontweight='bold', color='#1d3d6b', va='center', ha='left')
# bottom bar
axd.add_patch(Rectangle((0, 785), W, 4, fc='black', ec='none'))

fig.savefig('out.png', dpi=100, facecolor='white')
